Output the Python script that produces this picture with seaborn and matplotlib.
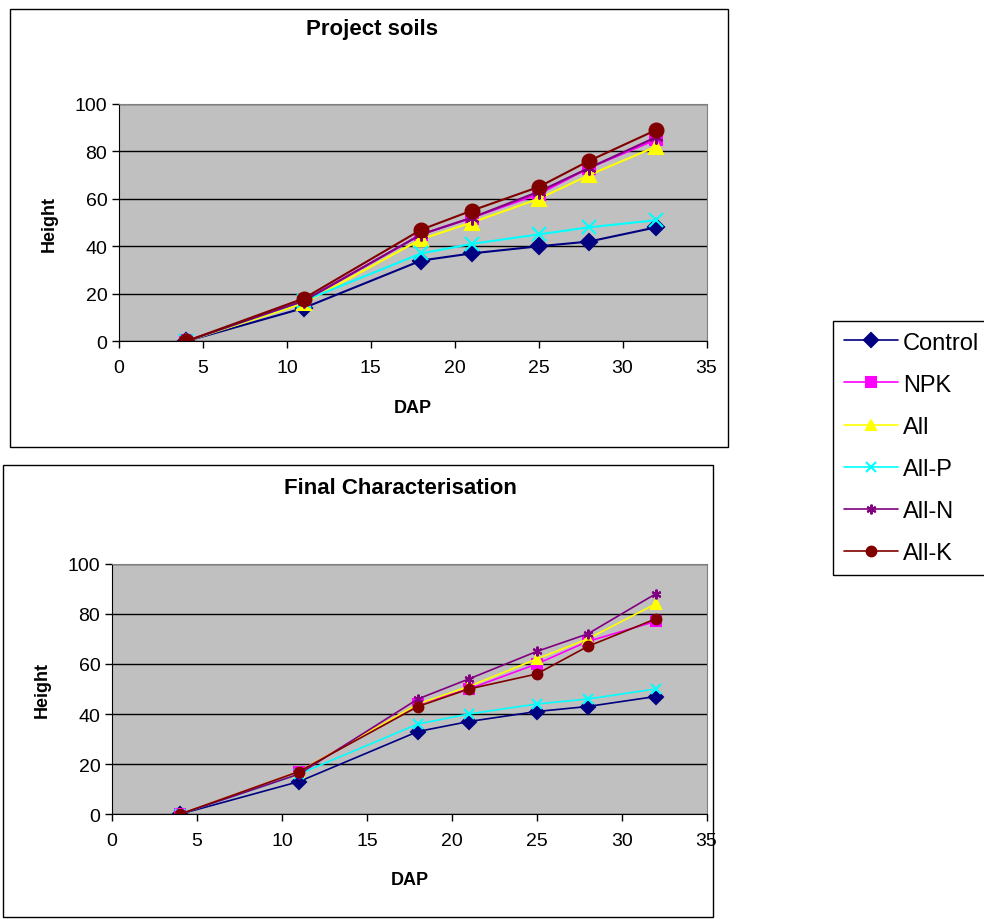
import pandas as pd
import numpy as np
import seaborn as sns
import matplotlib
matplotlib.use('Agg')
from matplotlib import pyplot as plt
from matplotlib.patches import Rectangle

# 데이터
dap = [4, 11, 18, 21, 25, 28, 32]
treatments = ['Control', 'NPK', 'All', 'All-P', 'All-N', 'All-K']

soils_control = [0, 14, 34, 37, 40, 42, 48]
soils_npk = [0, 17, 45, 52, 62, 73, 85]
soils_all = [0, 16, 43, 50, 60, 70, 82]
soils_allp = [0, 17, 37, 41, 45, 48, 51]
soils_alln = [0, 17, 45, 52, 63, 73, 86]
soils_allk = [0, 18, 47, 55, 65, 76, 89]

final_control = [0, 13, 33, 37, 41, 43, 47]
final_npk = [0, 17, 44, 50, 60, 69, 77]
final_all = [0, 17, 44, 51, 62, 70, 84]
final_allp = [0, 16, 36, 40, 44, 46, 50]
final_alln = [0, 16, 46, 54, 65, 72, 88]
final_allk = [0, 17, 43, 50, 56, 67, 78]

colors = {'Control': '#000080', 'NPK': '#FF00FF', 'All': '#FFFF00',
          'All-P': '#00FFFF', 'All-N': '#800080', 'All-K': '#800000'}
markers = {'Control': 'D', 'NPK': 's', 'All': '^',
           'All-P': 'x', 'All-N': (6, 2, 0), 'All-K': 'o'}
msizes = {'Control': 8, 'NPK': 9, 'All': 10, 'All-P': 10, 'All-N': 10, 'All-K': 10}


def to_long(series):
    rows = []
    for name, vals in zip(treatments, series):
        for x, y in zip(dap, vals):
            rows.append({'DAP': x, 'Height': y, 'Treatment': name})
    return pd.DataFrame(rows)


df_soils = to_long([soils_control, soils_npk, soils_all, soils_allp, soils_alln, soils_allk])
df_final = to_long([final_control, final_npk, final_all, final_allp, final_alln, final_allk])

sns.set_style('white')
plt.rcParams['font.family'] = ['Liberation Sans', 'DejaVu Sans']
plt.rcParams['text.color'] = 'black'
plt.rcParams['axes.labelcolor'] = 'black'
plt.rcParams['xtick.color'] = 'black'
plt.rcParams['ytick.color'] = 'black'

fig = plt.figure(figsize=(9.84, 9.2), dpi=100)
ax1 = fig.add_axes([0.121, 0.628, 0.597, 0.258])
ax2 = fig.add_axes([0.114, 0.114, 0.604, 0.272])

# 패널 테두리
fig.add_artist(Rectangle((10 / 984, 1 - 448 / 920), 718 / 984, 438 / 920,
                         transform=fig.transFigure, fill=False, edgecolor='black', lw=1))
fig.add_artist(Rectangle((3 / 984, 1 - 918 / 920), 710 / 984, 452 / 920,
                         transform=fig.transFigure, fill=False, edgecolor='black', lw=1))

for ax, df in [(ax1, df_soils), (ax2, df_final)]:
    for name in treatments:
        sub = df[df.Treatment == name]
        sns.lineplot(data=sub, x='DAP', y='Height', color=colors[name],
                     marker=markers[name], markersize=msizes[name], linewidth=1.5,
                     markeredgewidth=1.5, markeredgecolor=colors[name],
                     label=name, ax=ax)
    ax.set_facecolor('#C0C0C0')
    ax.set_xlim(0, 35)
    ax.set_ylim(0, 100)
    ax.set_xticks(range(0, 36, 5))
    ax.set_yticks(range(0, 101, 20))
    ax.yaxis.grid(True, color='black', lw=1)
    ax.set_axisbelow(True)
    for s in ['top', 'right']:
        ax.spines[s].set_color('#808080')
    for s in ['left', 'bottom']:
        ax.spines[s].set_color('black')
    ax.tick_params(axis='both', direction='out', length=5, width=1, labelsize=14,
                   bottom=True, left=True, color='black')
    ax.tick_params(axis='x', pad=8)
    ax.set_xlabel('DAP', fontsize=13, fontweight='bold', labelpad=16)
    ax.set_ylabel('Height', fontsize=13, fontweight='bold', labelpad=12)
    handles, labels = ax.get_legend_handles_labels()
    ax.get_legend().remove()

# 제목
fig.text(372 / 984, 1 - 30 / 920, 'Project soils', ha='center', va='center',
         fontsize=16, fontweight='bold')
fig.text(400 / 984, 1 - 489 / 920, 'Final Characterisation', ha='center', va='center',
         fontsize=16, fontweight='bold')

for h in handles:
    h.set_linewidth(1.2)
    h.set_markersize(7)

fig.legend(handles, labels, loc='upper left', bbox_to_anchor=(833 / 984, 1 - 322 / 920),
           frameon=True, fancybox=False, edgecolor='black', fontsize=17,
           handlelength=2.3, handletextpad=0.2, labelspacing=0.85, borderpad=0.45,
           borderaxespad=0, framealpha=1)

plt.savefig('out.png', dpi=100)
